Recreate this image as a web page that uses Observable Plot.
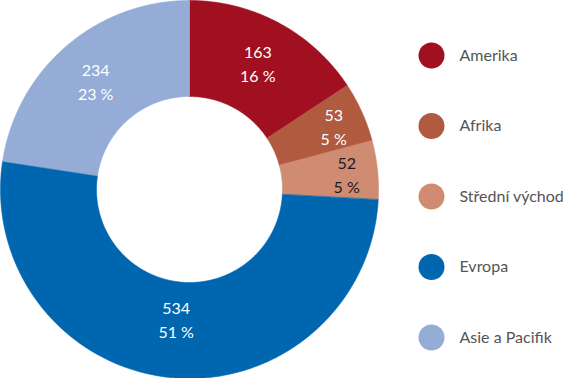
<!DOCTYPE html>
<html>
<head>
<meta charset="utf-8">
<script src="https://cdn.jsdelivr.net/npm/d3@7"></script>
<script src="https://cdn.jsdelivr.net/npm/@observablehq/plot@0.6"></script>
<style>
  html, body { margin: 0; padding: 0; background: #fff; }
  #chart { width: 573px; height: 378px; }
</style>
</head>
<body>
<div id="chart"></div>
<script>
// ---- data ----
const regions = ["Amerika", "Afrika", "Střední východ", "Evropa", "Asie a Pacifik"];
const counts = [163, 53, 52, 534, 234];
const percents = [16, 5, 5, 51, 23];
const colors = ["#a01020", "#b05a40", "#d08c72", "#0066b0", "#94acd6"];
const labelColors = ["#ffffff", "#ffffff", "#1a1a1a", "#ffffff", "#ffffff"];

// ---- layout ----
const W = 573, H = 378;
const cx = 189, cy = 189, R = 189, r0 = 93;
const legendX = 431, legendTextX = 459, legendY0 = 55, legendStep = 70.5;

const total = d3.sum(counts);
const slices = [];
const labels = [];
let acc = 0;
regions.forEach((name, i) => {
  const a0 = acc / total * 2 * Math.PI;
  acc += counts[i];
  const a1 = acc / total * 2 * Math.PI;
  const n = Math.max(4, Math.ceil((a1 - a0) / (Math.PI / 360)));
  const pts = [];
  for (let k = 0; k <= n; k++) {
    const a = a0 + (a1 - a0) * k / n;
    pts.push({name, x: cx + R * Math.sin(a), y: cy - R * Math.cos(a)});
  }
  for (let k = n; k >= 0; k--) {
    const a = a0 + (a1 - a0) * k / n;
    pts.push({name, x: cx + r0 * Math.sin(a), y: cy - r0 * Math.cos(a)});
  }
  slices.push(...pts);
  const am = (a0 + a1) / 2;
  const share = counts[i] / total;
  const lr = share < 0.08 ? 158 : (share > 0.4 ? 130 : 144);
  labels.push({
    name,
    x: cx + lr * Math.sin(am),
    y: cy - lr * Math.cos(am),
    text: `${counts[i]}\n${percents[i]} %`,
    color: labelColors[i]
  });
});

const legend = regions.map((name, i) => ({name, y: legendY0 + i * legendStep}));

const plot = Plot.plot({
  width: W,
  height: H,
  margin: 0,
  x: {domain: [0, W], range: [0, W], axis: null},
  y: {domain: [0, H], range: [0, H], axis: null},
  color: {domain: regions, range: colors},
  style: {fontFamily: "Lato, 'Open Sans', sans-serif", background: "#fff"},
  marks: [
    Plot.line(slices, {x: "x", y: "y", z: "name", fill: "name", stroke: "name", strokeWidth: 0.6, curve: "linear-closed"}),
    Plot.text(labels, {x: "x", y: "y", text: "text", fill: "color", fontSize: 16, lineHeight: 1.5, textAnchor: "middle"}),
    Plot.dot(legend, {x: () => legendX, y: "y", r: 13, fill: "name", stroke: null}),
    Plot.text(legend, {x: () => legendTextX, y: "y", text: "name", fill: "#555555", fontSize: 16, textAnchor: "start"})
  ]
});
document.getElementById("chart").appendChild(plot);
</script>
</body>
</html>
